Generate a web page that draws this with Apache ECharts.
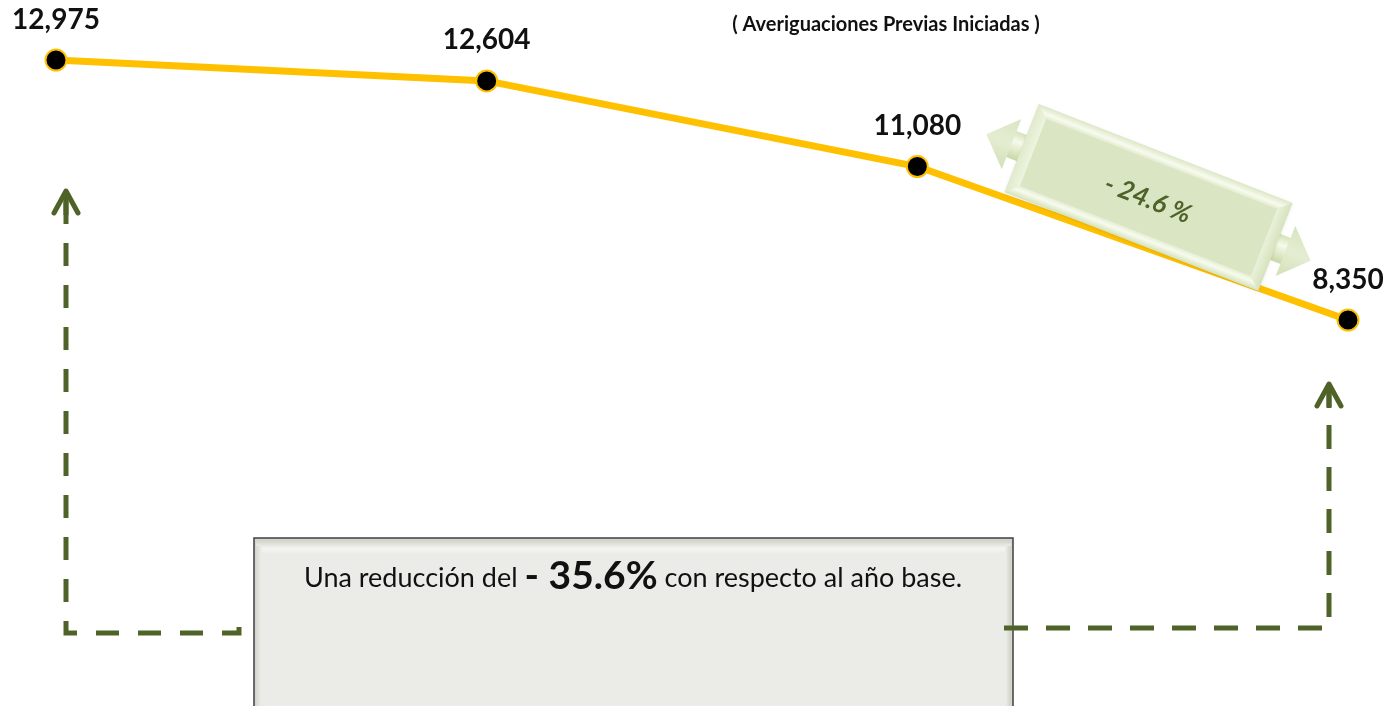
<!DOCTYPE html>
<html>
<head>
<meta charset="utf-8">
<script src="https://cdn.jsdelivr.net/npm/echarts@6/dist/echarts.min.js"></script>
<style>
  html, body { margin: 0; padding: 0; background: #fff; }
  #chart { width: 1393px; height: 706px; }
</style>
</head>
<body>
<div id="chart"></div>
<script>
// datos
const periodos = ['Año base', 'Año 2', 'Año 3', 'Año 4'];
const averiguaciones = [12975, 12604, 11080, 8350];
const titulo = '( Averiguaciones Previas Iniciadas )';
const variacionUltimo = '- 24.6 %';
const variacionTotal = '- 35.6%';

const verde = '#4F6228';

function conComas(v) {
  return String(v).replace(/\B(?=(\d{3})+(?!\d))/g, ',');
}

// flechas punteadas (anotaciones)
function flechaPunteada(puntos, dash, tip) {
  return [
    {
      type: 'polyline', z: 50,
      shape: { points: puntos },
      style: { stroke: verde, lineWidth: 5, fill: null, lineDash: dash, lineCap: 'butt' }
    },
    {
      type: 'polyline', z: 50,
      shape: { points: [[tip[0] - 12, tip[1] + 22], tip, [tip[0] + 12, tip[1] + 22]] },
      style: { stroke: verde, lineWidth: 5, fill: null, lineCap: 'round', lineJoin: 'round' }
    },
    {
      type: 'line', z: 50,
      shape: { x1: tip[0], y1: tip[1] + 2, x2: tip[0], y2: tip[1] + 24 },
      style: { stroke: verde, lineWidth: 5 }
    }
  ];
}

// flecha doble con el porcentaje
const ang = -21.3 * Math.PI / 180;
function puntaFlecha(s) {
  return [
    { type: 'polygon', z: 60,
      shape: { points: [[s * 120, -14], [s * 150, -14], [s * 150, 14], [s * 120, 14]] },
      style: { fill: new echarts.graphic.LinearGradient(0, 0, 0, 1, [
        { offset: 0, color: '#D5E3B8' }, { offset: 0.35, color: '#F6FAEC' }, { offset: 1, color: '#C8D9A6' }]) }
    },
    { type: 'polygon', z: 60,
      shape: { points: [[s * 147, -27], [s * 174, 0], [s * 147, 27]] },
      style: { fill: new echarts.graphic.LinearGradient(0, 0, 0, 1, [
        { offset: 0, color: '#D8E5C0' }, { offset: 0.5, color: '#E4EDD2' }, { offset: 1, color: '#D2E0B6' }]) }
    }
  ];
}
const flechaDoble = {
  type: 'group', x: 1148.5, y: 197.5, rotation: ang, z: 60,
  children: [
    ...puntaFlecha(-1),
    ...puntaFlecha(1),
    { type: 'rect', z: 61,
      shape: { x: -136, y: -47, width: 272, height: 94 },
      style: { fill: '#DAE6C3', shadowBlur: 3, shadowColor: 'rgba(0,0,0,0.10)', shadowOffsetY: 1 }
    },
    { type: 'polygon', z: 62,
      shape: { points: [[-136, -47], [136, -47], [124, -36], [-124, -36]] },
      style: { fill: new echarts.graphic.LinearGradient(0, 0, 0, 1, [
        { offset: 0, color: '#DDE8C8' }, { offset: 0.6, color: '#F7FBEE' }, { offset: 1, color: '#E3ECD0' }]) }
    },
    { type: 'polygon', z: 62,
      shape: { points: [[-136, 47], [136, 47], [124, 36], [-124, 36]] },
      style: { fill: new echarts.graphic.LinearGradient(0, 0, 0, 1, [
        { offset: 0, color: '#E6EED5' }, { offset: 0.4, color: '#F7FBEE' }, { offset: 1, color: '#D6E3BC' }]) }
    },
    { type: 'polygon', z: 62,
      shape: { points: [[-136, -47], [-124, -36], [-124, 36], [-136, 47]] },
      style: { fill: new echarts.graphic.LinearGradient(0, 0, 1, 0, [
        { offset: 0, color: '#E0EACB' }, { offset: 1, color: '#EEF4E0' }]) }
    },
    { type: 'polygon', z: 62,
      shape: { points: [[136, -47], [124, -36], [124, 36], [136, 47]] },
      style: { fill: new echarts.graphic.LinearGradient(0, 0, 1, 0, [
        { offset: 0, color: '#EAF1DB' }, { offset: 1, color: '#D6E3BC' }]) }
    },
    { type: 'text', z: 63, x: 0, y: 2,
      style: { text: variacionUltimo, fill: verde, font: 'italic bold 26px Lato',
        align: 'center', verticalAlign: 'middle' }
    }
  ]
};

// recuadro inferior
const recuadro = [
  { type: 'rect', z: 40,
    shape: { x: 254, y: 538, width: 759, height: 175 },
    style: { fill: '#D4D7CD', stroke: '#3F3F3F', lineWidth: 1.5 }
  },
  { type: 'rect', z: 41,
    shape: { x: 256, y: 540, width: 755, height: 171 },
    style: { fill: new echarts.graphic.LinearGradient(0, 0, 0, 1, [
      { offset: 0, color: '#CFD2C8' }, { offset: 0.05, color: '#F4F5F1' }, { offset: 0.08, color: '#EBECE7' }, { offset: 1, color: '#EBECE7' }]) }
  },
  { type: 'rect', z: 41,
    shape: { x: 256, y: 546, width: 6, height: 165 },
    style: { fill: new echarts.graphic.LinearGradient(0, 0, 1, 0, [
      { offset: 0, color: '#D6D9D0' }, { offset: 1, color: '#EEEFEA' }]) }
  },
  { type: 'rect', z: 41,
    shape: { x: 1005, y: 546, width: 6, height: 165 },
    style: { fill: new echarts.graphic.LinearGradient(0, 0, 1, 0, [
      { offset: 0, color: '#EEEFEA' }, { offset: 1, color: '#D0D3C9' }]) }
  },
  { type: 'text', z: 45, x: 633, y: 596,
    style: {
      text: '{a|Una reducción del }{b|' + variacionTotal + '}{a| con respecto al año base.}',
      align: 'center', verticalAlign: 'bottom',
      rich: {
        a: { font: '27px Lato', fill: '#111', verticalAlign: 'bottom', padding: [0, 0, 4, 0] },
        b: { font: 'bold 39px Lato', fill: '#111', verticalAlign: 'bottom' }
      }
    }
  }
];

const chart = echarts.init(document.getElementById('chart'));
chart.setOption({
  backgroundColor: '#ffffff',
  animation: false,
  textStyle: { fontFamily: 'Lato' },
  grid: { left: 56, right: 45, top: 2.4, height: 449.8, containLabel: false },
  xAxis: {
    type: 'category', data: periodos, boundaryGap: false,
    axisLine: { show: false }, axisTick: { show: false }, axisLabel: { show: false }, splitLine: { show: false }
  },
  yAxis: {
    type: 'value', min: 6000, max: 14000,
    axisLine: { show: false }, axisTick: { show: false }, axisLabel: { show: false }, splitLine: { show: false }
  },
  series: [{
    type: 'line',
    data: averiguaciones,
    z: 10,
    symbol: 'circle',
    symbolSize: 21,
    lineStyle: { color: '#FFC000', width: 7 },
    itemStyle: { color: '#000000', borderColor: '#FFC000', borderWidth: 2 },
    label: {
      show: true, position: 'top', distance: 15,
      formatter: p => conComas(p.value),
      fontFamily: 'Lato', fontWeight: 'bold', fontSize: 28, color: '#111'
    }
  }],
  graphic: [
    { type: 'text', x: 886, y: 25, z: 30,
      style: { text: titulo, font: 'bold 20px Lato', fill: '#111', align: 'center', verticalAlign: 'middle' } },
    ...flechaPunteada([[66, 201], [66, 633], [239, 633], [239, 626]], [23, 19], [66, 191]),
    ...flechaPunteada([[1004, 628], [1329, 628], [1329, 390]], [24, 18], [1329, 384]),
    ...recuadro,
    flechaDoble
  ]
});
</script>
</body>
</html>
